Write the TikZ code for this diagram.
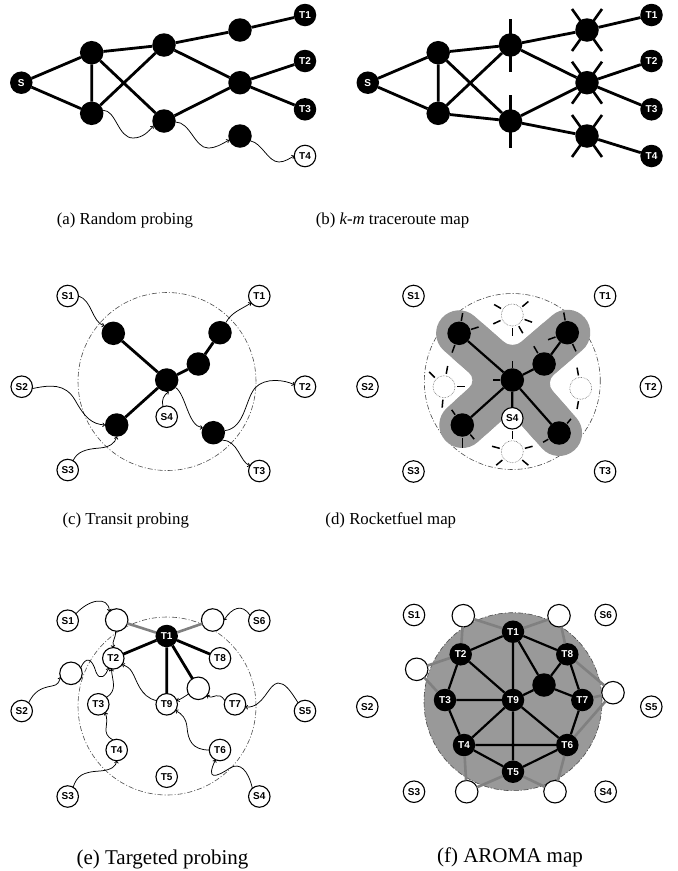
\documentclass[tikz,border=0pt]{standalone}
\usepackage{fontspec}
\setmainfont{Liberation Serif}
\newfontfamily\lblfont{Liberation Sans}
\usetikzlibrary{arrows.meta,calc}
\begin{document}
\begin{tikzpicture}[x=1pt,y=1pt,
  lbl/.style={font=\lblfont\bfseries\fontsize{10}{10}\selectfont},
  hop/.style={circle,fill=black,inner sep=0pt,outer sep=0pt,minimum size=23.5pt},
  blk/.style={circle,fill=black,text=white,inner sep=0pt,outer sep=0pt,minimum size=22.5pt,lbl},
  wht/.style={circle,draw=black,line width=1.1pt,fill=white,inner sep=0pt,outer sep=0pt,minimum size=21.5pt,lbl},
  ghost/.style={circle,draw=black!60,densely dotted,line width=0.6pt,fill=white,inner sep=0pt,outer sep=0pt,minimum size=22pt},
  link/.style={line width=2.8pt},
  flink/.style={line width=2.2pt},
  glink/.style={line width=2.6pt,draw=black!50},
  spike/.style={line width=2.6pt},
  rtick/.style={line width=1.5pt},
  probe/.style={line width=0.75pt,-{To[length=2.6pt,width=4.4pt]}},
  region/.style={draw=black!70,line width=0.6pt,dash pattern=on 5pt off 2pt on 1pt off 2pt},
  caption/.style={font=\fontsize{16.8}{18}\selectfont},
  bigcaption/.style={font=\fontsize{21}{23}\selectfont}
]
\fill[white] (0,0) rectangle (678,-871);
\useasboundingbox (0,0) rectangle (678,-871);

% ---------------- (a) random probing ----------------
\node[blk] (aS) at (21.3,-82.7) {S};
\node[hop] (aA1) at (91.7,-52.7) {};
\node[hop] (aA2) at (91.7,-113.3) {};
\node[hop] (aB1) at (164,-45) {};
\node[hop] (aB2) at (164,-121) {};
\node[hop] (aC1) at (240,-30) {};
\node[hop] (aC2) at (240,-82.7) {};
\node[hop] (aC3) at (240,-136) {};
\node[blk] (aT1) at (305,-15) {T1};
\node[blk] (aT2) at (305,-61) {T2};
\node[blk] (aT3) at (305,-109.3) {T3};
\node[wht] (aT4) at (305,-156) {T4};
\draw[link] (aS) -- (aA1) (aS) -- (aA2) (aA1) -- (aA2)
  (aA1) -- (aB1) (aA1) -- (aB2) (aA2) -- (aB1)
  (aB1) -- (aC1) (aB1) -- (aC2) (aB2) -- (aC2)
  (aC1) -- (aT1) (aC2) -- (aT2) (aC2) -- (aT3);
\draw[probe] (aA2.15) .. controls (116,-110) and (118,-138) .. (133,-138)
  .. controls (143,-138) and (149,-131) .. (aB2.205);
\draw[probe] (aB2.-5) .. controls (190,-122) and (195,-148) .. (208,-148)
  .. controls (216,-148) and (222,-144) .. (aC3.200);
\draw[probe] (aC3.-25) .. controls (262,-143) and (268,-162) .. (279,-162)
  .. controls (285,-162) and (290,-158) .. (aT4.west);
\node[caption] (capa) at (125,-220.7) {(a) Random probing};

% ---------------- (b) k-m traceroute map ----------------
\begin{scope}[shift={(346.5,0)}]
\node[blk] (bS) at (21.3,-82.7) {S};
\node[hop] (bA1) at (91.7,-52.7) {};
\node[hop] (bA2) at (91.7,-113.3) {};
\node[hop] (bB1) at (164,-45) {};
\node[hop] (bB2) at (164,-121) {};
\node[hop] (bC1) at (240.5,-30) {};
\node[hop] (bC2) at (240.5,-82.7) {};
\node[hop] (bC3) at (240.5,-136) {};
\node[blk] (bT1) at (305,-15) {T1};
\node[blk] (bT2) at (305,-61) {T2};
\node[blk] (bT3) at (305,-109.3) {T3};
\node[blk] (bT4) at (305,-156) {T4};
\end{scope}
\draw[link] (bS) -- (bA1) (bS) -- (bA2) (bA1) -- (bA2)
  (bA1) -- (bB1) (bA1) -- (bB2) (bA2) -- (bB1) (bA2) -- (bB2)
  (bB1) -- (bC1) (bB1) -- (bC2) (bB2) -- (bC2) (bB2) -- (bC3)
  (bC1) -- (bT1) (bC2) -- (bT2) (bC2) -- (bT3) (bC3) -- (bT4);
\foreach \n in {bB1,bB2}
  \draw[spike] ([yshift=26pt]\n.center) -- ([yshift=-27pt]\n.center);
\foreach \n in {bC1,bC2,bC3}{
  \draw[spike] ([shift={(-15pt,21pt)}]\n.center) -- ([shift={(15pt,-21pt)}]\n.center);
  \draw[spike] ([shift={(15pt,21pt)}]\n.center) -- ([shift={(-15pt,-21pt)}]\n.center);
}
\node[caption] (capb) at (392.5,-220.7) {(b) \textit{k-m} traceroute map};

% ---------------- (c) transit probing ----------------
\draw[region] (167,-381.5) circle (89);
\node[wht] (cS1) at (67.7,-296) {S1};
\node[wht] (cT1) at (259.3,-296) {T1};
\node[wht] (cS2) at (21.7,-386.7) {S2};
\node[wht] (cT2) at (305,-386.7) {T2};
\node[wht] (cS4) at (166.7,-416.7) {S4};
\node[wht] (cS3) at (67.7,-470) {S3};
\node[wht] (cT3) at (259.3,-471) {T3};
\node[hop] (cN1) at (113.3,-333.3) {};
\node[hop] (cN0) at (166.7,-380) {};
\node[hop] (cU1) at (198.3,-364) {};
\node[hop] (cU2) at (220,-332.7) {};
\node[hop] (cL) at (116.7,-425) {};
\node[hop] (cR) at (213.3,-432.7) {};
\draw[link] (cN1) -- (cN0) (cN0) -- (cL) (cN0) -- (cU1) (cU1) -- (cU2);
\draw[probe] (cS1.east) .. controls (92,-300) and (92,-322) .. (cN1.140);
\draw[probe] (cS2.-10) .. controls (50,-385) and (65,-383) .. (75,-400)
  .. controls (85,-418) and (92,-424) .. (cL.west);
\draw[probe] (cS3.60) .. controls (77,-452) and (85,-449) .. (100,-448)
  .. controls (110,-447) and (115,-443) .. (cL.south);
\draw[probe] (cS4.110) .. controls (161,-400) and (164,-395) .. (cN0.-80);
\draw[probe] (cN0.-40) .. controls (186,-395) and (188,-426) .. (cR.155);
\draw[probe] (cU2.60) .. controls (232,-312) and (240,-310) .. (cT1.-140);
\draw[probe] (cR.10) .. controls (245,-428) and (245,-400) .. (255,-388)
  .. controls (265,-377) and (285,-380) .. (cT2.170);
\draw[probe] (cR.-40) .. controls (238,-440) and (240,-462) .. (cT3.150);
\node[caption] (capc) at (125.8,-520.7) {(c) Transit probing};

% ---------------- (d) Rocketfuel map ----------------
\begin{scope}[shift={(345.8,0)}]
\coordinate (dn1) at (113.3,-333.3);
\coordinate (dn0) at (166.5,-380);
\coordinate (du1) at (198.3,-364);
\coordinate (du2) at (221.5,-332.7);
\coordinate (dl) at (116.5,-425);
\coordinate (dr) at (213.3,-433);
\draw[region] (166.5,-381.5) circle (88);
% shaded cross of the measured area
\draw[black!40,line width=46pt,line cap=round,line join=round]
  (dn1) -- (dn0) -- (dr) (dl) -- (dn0) -- (du2);
\fill[black!40,rounded corners=12pt,shift={(166.5,-380)}]
  (0.1,30.5) -- (40,64.7) -- (70,29.9) -- (32.6,-2.25) -- (64,-37.8)
  -- (29.4,-68.2) -- (-1.9,-32.6) -- (-34.6,-62.1) -- (-65.4,-27.9)
  -- (-34.6,-0.2) -- (-68.5,29.4) -- (-38.1,64.0) -- cycle;
\node[wht] (dS1) at (67.7,-296) {S1};
\node[wht] (dT1) at (259.3,-296) {T1};
\node[wht] (dS2) at (21.7,-386.7) {S2};
\node[wht] (dT2) at (305,-386.7) {T2};
\node[wht] (dS4) at (166.5,-418.3) {S4};
\node[wht] (dS3) at (67.7,-471.5) {S3};
\node[wht] (dT3) at (259.3,-471.5) {T3};
\node[ghost] (dW1) at (166.5,-315) {};
\node[ghost] (dW2) at (98.2,-386.7) {};
\node[ghost] (dW3) at (234.9,-388.3) {};
\node[ghost] (dW4) at (166.5,-451.7) {};
\node[hop] (dN1) at (dn1) {};
\node[hop] (dN0) at (dn0) {};
\node[hop] (dU1) at (du1) {};
\node[hop] (dU2) at (du2) {};
\node[hop] (dL) at (dl) {};
\node[hop] (dR) at (dr) {};
\end{scope}
\draw[flink] (dN1) -- (dN0) (dN0) -- (dL) (dN0) -- (dR) (dN0) -- (dU1) (dU1) -- (dU2) (dN0) -- (dS4);
\foreach \a in {80,18,250} \draw[rtick] (dN1.center) ++(\a:12.5) -- ++(\a:8);
\foreach \a in {100,-65,200} \draw[rtick] (dU2.center) ++(\a:12.5) -- ++(\a:8);
\foreach \a in {120} \draw[rtick] (dU1.center) ++(\a:12.5) -- ++(\a:8);
\foreach \a in {90,180} \draw[rtick] (dN0.center) ++(\a:12.5) -- ++(\a:7);
\foreach \a in {125,-50} \draw[rtick] (dL.center) ++(\a:12.5) -- ++(\a:6);
\draw[rtick] (dL.center) ++(-90:13) -- ++(-90:10);
\foreach \a in {50,210} \draw[rtick] (dR.center) ++(\a:12.5) -- ++(\a:6);
\foreach \a in {40,150,205,270,300,340} \draw[rtick] (dW1.center) ++(\a:13) -- ++(\a:8);
\foreach \a in {135,80,0,-95} \draw[rtick] (dW2.center) ++(\a:13) -- ++(\a:8);
\foreach \a in {100,-100} \draw[rtick] (dW3.center) ++(\a:13) -- ++(\a:8);
\foreach \a in {90,165,15,-140,-40} \draw[rtick] (dW4.center) ++(\a:13) -- ++(\a:8);
\node[caption] (capd) at (390.8,-520.7) {(d) Rocketfuel map};

% ---------------- (e) targeted probing ----------------
\draw[region] (167,-706) circle (89);
\node[blk] (eT1) at (166.7,-636) {T1};
\node[wht,minimum size=22.5pt] (eWa) at (116.7,-620) {};
\node[wht,minimum size=22.5pt] (eWb) at (212.7,-620) {};
\node[wht,minimum size=22.5pt] (eWc) at (71,-673.3) {};
\node[wht,minimum size=22.5pt] (eWd) at (198.3,-688.3) {};
\node[wht] (eS1) at (67.7,-620.7) {S1};
\node[wht] (eS6) at (259.3,-620.7) {S6};
\node[wht] (eT2) at (113.3,-658.3) {T2};
\node[wht] (eT8) at (220,-658.3) {T8};
\node[wht] (eS2) at (21.7,-711) {S2};
\node[wht] (eT3) at (98.3,-704.3) {T3};
\node[wht] (eT9) at (166.7,-704.3) {T9};
\node[wht] (eT7) at (235,-704.3) {T7};
\node[wht] (eS5) at (305,-711) {S5};
\node[wht] (eT4) at (116.7,-750) {T4};
\node[wht] (eT6) at (220,-750) {T6};
\node[wht] (eT5) at (166.7,-776.7) {T5};
\node[wht] (eS3) at (67.7,-796.5) {S3};
\node[wht] (eS4) at (259.3,-796.5) {S4};
\draw[glink] (eWa) -- (eT1) (eWb) -- (eT1);
\draw[link] (eT1) -- (eT2) (eT1) -- (eT8) (eT1) -- (eT9) (eT1) -- (eWd);
\draw[probe] (eS1.40) .. controls (88,-600) and (108,-595) .. (eWa.130);
\draw[probe] (eWa.-95) .. controls (116,-638) and (112,-640) .. (eT2.north);
\draw[probe] (eWc.30) .. controls (86,-656) and (92,-658) .. (96,-672)
  .. controls (100,-682) and (106,-675) .. (eT2.-115);
\draw[probe] (eS2.50) .. controls (34,-692) and (40,-688) .. (52,-686)
  .. controls (58,-685) and (59,-682) .. (eWc.-160);
\draw[probe] (eT3.40) .. controls (118,-690) and (112,-680) .. (eT2.-100);
\draw[probe] (eT4.110) .. controls (100,-733) and (110,-725) .. (eT3.-50);
\draw[probe] (eS3.60) .. controls (77,-776) and (82,-772) .. (100,-771)
  .. controls (112,-770) and (116,-766) .. (eT4.south);
\draw[probe] (eT9.160) .. controls (140,-697) and (137,-680) .. (132,-672)
  .. controls (130,-668) and (126,-666) .. (eT2.-35);
\draw[probe] (eWd.-150) .. controls (184,-697) and (181,-699) .. (eT9.20);
\draw[probe] (eT7.160) .. controls (218,-690) and (214,-700) .. (eWd.-40);
\draw[probe] (eS5.130) .. controls (290,-690) and (285,-683) .. (278,-683)
  .. controls (268,-684) and (264,-708) .. (eT7.-15);
\draw[probe] (eT6.west) .. controls (192,-750) and (188,-740) .. (187,-727)
  .. controls (186,-718) and (182,-714) .. (eT9.-35);
\draw[probe] (eS4.130) .. controls (248,-770) and (240,-762) .. (230,-768)
  .. controls (215,-778) and (206,-780) .. (eT6.-115);
\draw[probe] (eS6.150) .. controls (242,-603) and (232,-608) .. (eWb.east);
\node[bigcaption] (cape) at (162.5,-859.5) {(e) Targeted probing};

% ---------------- (f) AROMA map ----------------
\fill[black!40] (513,-701.7) circle (89);
\draw[region] (513,-701.7) circle (89);
\node[blk] (fT1) at (513,-631.7) {T1};
\node[blk] (fT2) at (460.7,-654.3) {T2};
\node[blk] (fT8) at (567.3,-654.3) {T8};
\node[blk] (fT3) at (445,-700) {T3};
\node[blk] (fT9) at (513,-700) {T9};
\node[blk] (fT7) at (582.3,-700) {T7};
\node[blk] (fT4) at (464,-745) {T4};
\node[blk] (fT6) at (567.3,-745) {T6};
\node[blk] (fT5) at (513,-771.7) {T5};
\node[hop] (fX) at (544,-685) {};
\node[wht,minimum size=22.5pt] (fWa) at (463.3,-615.7) {};
\node[wht,minimum size=22.5pt] (fWb) at (559,-615.7) {};
\node[wht,minimum size=22.5pt] (fWc) at (416.7,-669.3) {};
\node[wht,minimum size=22.5pt] (fWd) at (613,-692.7) {};
\node[wht,minimum size=22.5pt] (fWe) at (466.7,-791.7) {};
\node[wht,minimum size=22.5pt] (fWf) at (555,-791.7) {};
\node[wht] (fS1) at (414,-615) {S1};
\node[wht] (fS6) at (605.7,-615) {S6};
\node[wht] (fS2) at (367.3,-706.7) {S2};
\node[wht] (fS5) at (651.3,-706.7) {S5};
\node[wht] (fS3) at (414,-791.7) {S3};
\node[wht] (fS4) at (605.7,-791.7) {S4};
\draw[glink] (fWa) -- (fT1) (fWa) -- (fT2) (fWb) -- (fT1) (fWb) -- (fT8)
  (fWc) -- (fT2) (fWc) -- (fT3) (fWd) -- (fT8) (fWd) -- (fT7) (fWd) -- (fT6)
  (fWe) -- (fT4) (fWe) -- (fT5) (fWf) -- (fT5) (fWf) -- (fT6);
\draw[flink] (fT1) -- (fT2) (fT1) -- (fT9) (fT1) -- (fT8) (fT1) -- (fX)
  (fT8) -- (fX) (fX) -- (fT7) (fX) -- (fT9)
  (fT2) -- (fT3) (fT2) -- (fT9) (fT3) -- (fT9) (fT3) -- (fT4)
  (fT8) -- (fT7) (fT7) -- (fT6)
  (fT9) -- (fT4) (fT9) -- (fT5) (fT9) -- (fT6)
  (fT4) -- (fT6) (fT4) -- (fT5) (fT5) -- (fT6);
\node[bigcaption] (capf) at (510,-857) {(f) AROMA map};
\end{tikzpicture}
\end{document}
